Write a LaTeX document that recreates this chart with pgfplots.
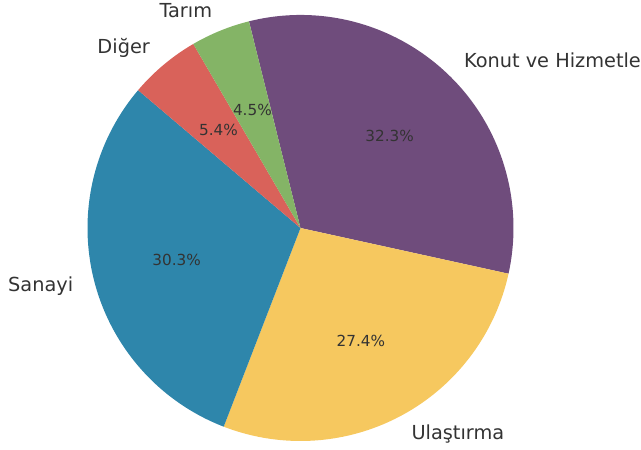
\documentclass[border=0pt]{standalone}
\usepackage{pgfplots}
\pgfplotsset{compat=1.18}
\usepackage{fontspec}
\setmainfont{DejaVu Sans}
\definecolor{konut}{HTML}{6F4C7C}
\definecolor{ulas}{HTML}{F6C85F}
\definecolor{sanayi}{HTML}{2E86AB}
\definecolor{diger}{HTML}{D9625A}
\definecolor{tarim}{HTML}{84B466}
\definecolor{txt}{HTML}{333333}
\begin{document}
\begin{tikzpicture}
\begin{axis}[x=1bp,y=1bp,xmin=-300.5,xmax=340.5,ymin=-222,ymax=228,
  hide axis,disabledatascaling,anchor=south west,at={(0,0)},clip=false]
\addplot[draw=none] coordinates {(0,0)};
\pgfplotsextra{
  \gdef\cur{104}
  \foreach \v/\c/\lab/\anc in {32.3/konut/Konut ve Hizmetler/west,27.4/ulas/Ulaştırma/west,30.3/sanayi/Sanayi/east,5.4/diger/Diğer/east,4.5/tarim/Tarım/east}{
    \pgfmathsetmacro\sw{\v/99.9*360}
    \pgfmathsetmacro\angend{\cur-\sw}
    \pgfmathsetmacro\angmid{\cur-\sw/2}
    \fill[\c] (axis cs:0,0) -- (axis cs:{213*cos(\cur)},{213*sin(\cur)}) arc[start angle=\cur,end angle=\angend,radius=213bp] -- cycle;
    \node[anchor=\anc,inner sep=0pt,text=txt,font=\fontsize{19.4}{23}\selectfont] at (axis cs:{234.3*cos(\angmid)},{234.3*sin(\angmid)}) {\lab};
    \node[inner sep=0pt,text=txt,font=\fontsize{15.3}{18}\selectfont] at (axis cs:{127.8*cos(\angmid)},{127.8*sin(\angmid)}) {\v\%};
    \xdef\cur{\angend}
  }
}
\end{axis}
\pgfresetboundingbox
\useasboundingbox (0,0) rectangle (641bp,450bp);
\end{tikzpicture}
\end{document}
